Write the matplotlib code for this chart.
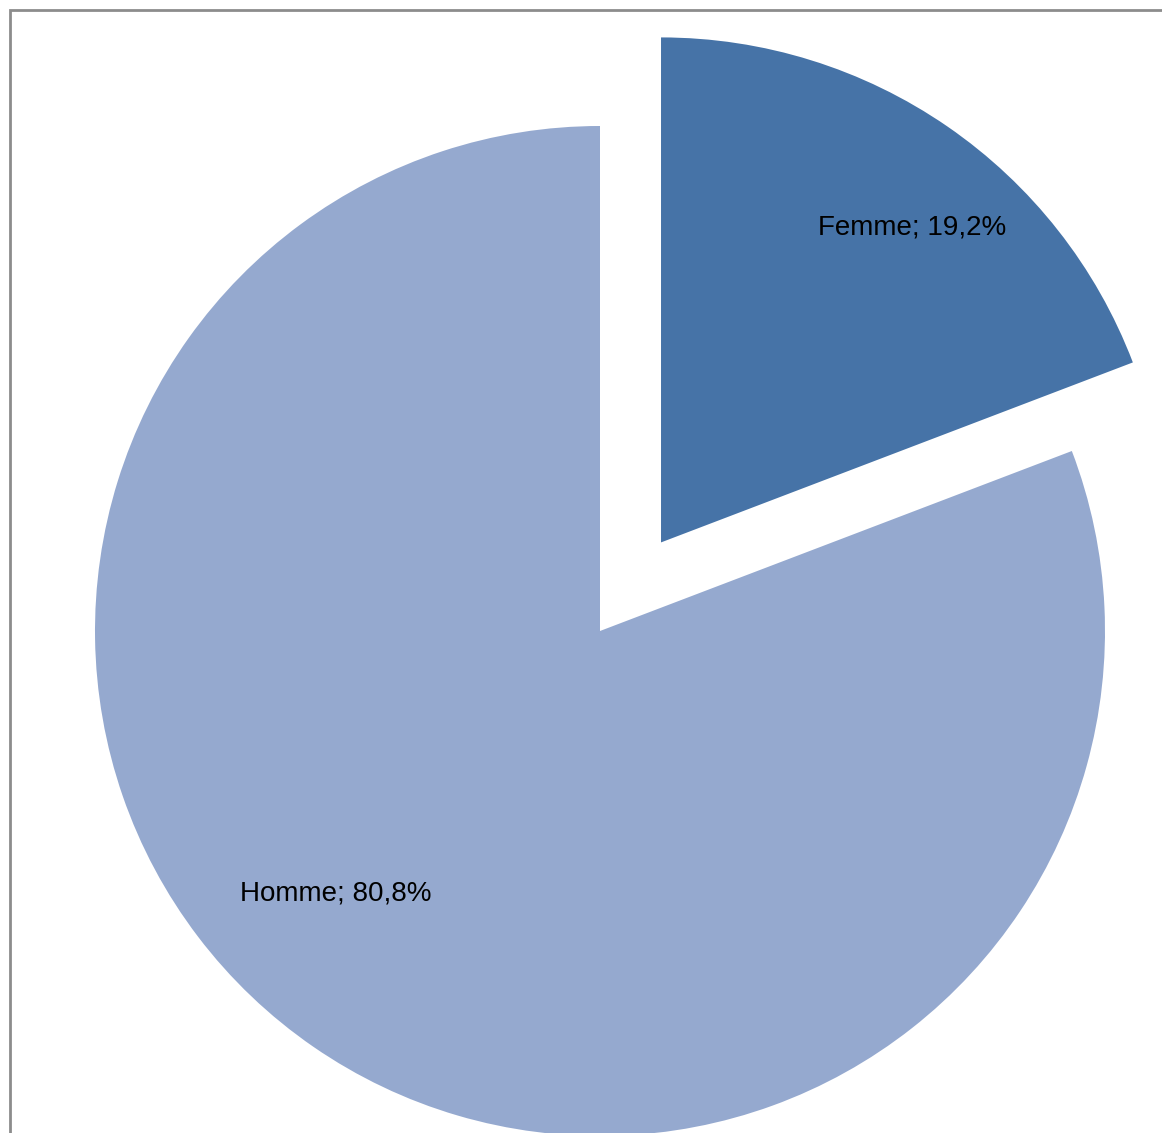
import numpy as np
import matplotlib.pyplot as plt
from matplotlib.patches import Rectangle

# repartition par sexe
categories = ["Femme", "Homme"]
valeurs = [19.2, 80.8]
couleurs = ["#4673A7", "#95A9CF"]

W, H = 1162, 1133
fig = plt.figure(figsize=(W/100, H/100), dpi=100)
ax = fig.add_axes([0, 0, 1, 1])

# cadre gris
ax.add_patch(Rectangle((10, -20), W + 20, H - 10 + 20, fill=False,
                       edgecolor="#8c8c8c", linewidth=2, clip_on=False))

centre = (600, H - 631)
rayon = 505
# explode est en unites de donnees (pas relatif au rayon)
ecart = [0.213 * rayon, 0]
wedges, textes = ax.pie(valeurs, colors=couleurs, startangle=90, counterclock=False,
                        center=centre, radius=rayon, explode=ecart,
                        labels=["%s; %s%%" % (c, str(v).replace(".", ",")) for c, v in zip(categories, valeurs)],
                        labeldistance=0.75, frame=True,
                        wedgeprops=dict(linewidth=0),
                        textprops=dict(fontsize=20, family=["Liberation Sans Narrow", "Liberation Sans"],
                                       color="black", ha="center", va="center"))
ax.axis("off")
ax.set_xlim(0, W)
ax.set_ylim(0, H)
ax.set_aspect("equal")

# position des etiquettes
textes[0].set_position((912, H - 228))
textes[1].set_position((336, H - 893))
for t in textes:
    t.set_ha("center")

fig.savefig("out.png", dpi=100)
